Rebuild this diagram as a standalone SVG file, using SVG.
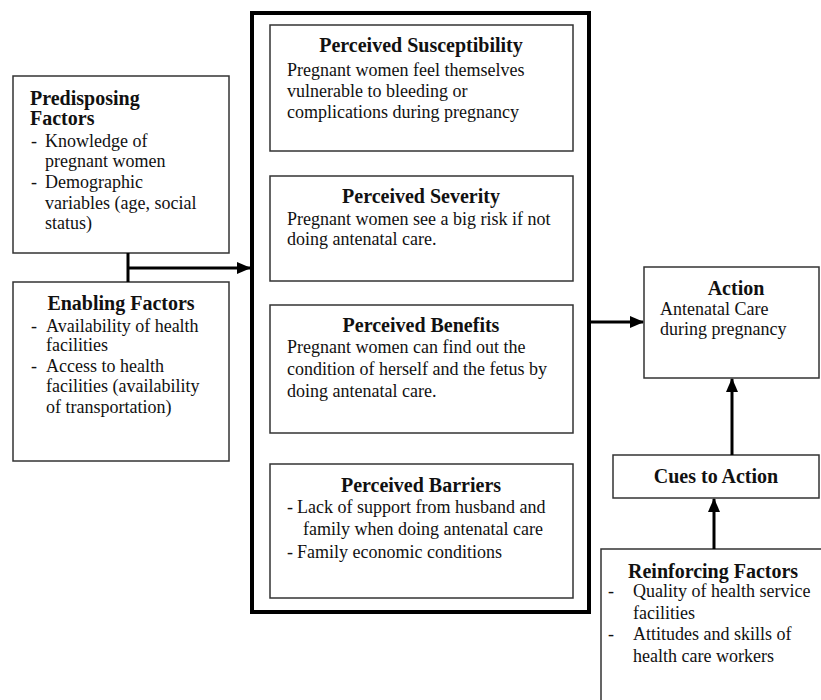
<svg xmlns="http://www.w3.org/2000/svg" width="821" height="700" viewBox="0 0 821 700">
<style>
.box{fill:#fff;stroke:#333;stroke-width:1.5}
.outer{fill:#fff;stroke:#000;stroke-width:4}
.t{font-family:"Liberation Serif","Times New Roman",serif;font-size:20px;font-weight:bold;fill:#111}
.b{font-family:"Liberation Serif","Times New Roman",serif;font-size:18px;fill:#111}
.c{text-anchor:middle}
.conn{stroke:#000;stroke-width:3;fill:none}
</style>
<defs>
<marker id="ah" markerUnits="userSpaceOnUse" markerWidth="14" markerHeight="14" refX="13" refY="7" orient="auto">
<path d="M0,1 L14,7 L0,13 z" fill="#000"/>
</marker>
</defs>
<rect width="821" height="700" fill="#fff"/>

<g id="hbm">
<rect class="outer" x="252" y="13" width="337" height="599"/>
</g>

<g id="predisposing">
<rect class="box" x="13" y="76" width="216" height="177"/>
<text class="t" x="30" y="105">Predisposing</text>
<text class="t" x="30" y="125">Factors</text>
<text class="b" x="31" y="147">-</text><text class="b" x="45" y="147">Knowledge of</text>
<text class="b" x="45" y="167">pregnant women</text>
<text class="b" x="31" y="188">-</text><text class="b" x="45" y="188">Demographic</text>
<text class="b" x="45" y="209">variables (age, social</text>
<text class="b" x="45" y="229">status)</text>
</g>

<g id="enabling">
<rect class="box" x="13" y="282" width="216" height="179"/>
<text class="t c" x="121" y="310">Enabling Factors</text>
<text class="b" x="31" y="332">-</text><text class="b" x="46" y="332">Availability of health</text>
<text class="b" x="46" y="351">facilities</text>
<text class="b" x="31" y="372">-</text><text class="b" x="46" y="372">Access to health</text>
<text class="b" x="46" y="392">facilities (availability</text>
<text class="b" x="46" y="413">of transportation)</text>
</g>

<g id="susceptibility">
<rect class="box" x="270" y="25" width="303" height="126"/>
<text class="t c" x="421" y="52">Perceived Susceptibility</text>
<text class="b" x="287" y="76">Pregnant women feel themselves</text>
<text class="b" x="287" y="97">vulnerable to bleeding or</text>
<text class="b" x="287" y="118">complications during pregnancy</text>
</g>

<g id="severity">
<rect class="box" x="270" y="176" width="303" height="105"/>
<text class="t c" x="421" y="203">Perceived Severity</text>
<text class="b" x="287" y="225">Pregnant women see a big risk if not</text>
<text class="b" x="287" y="245">doing antenatal care.</text>
</g>

<g id="benefits">
<rect class="box" x="270" y="305" width="303" height="128"/>
<text class="t c" x="421" y="332">Perceived Benefits</text>
<text class="b" x="287" y="353">Pregnant women can find out the</text>
<text class="b" x="287" y="375">condition of herself and the fetus by</text>
<text class="b" x="287" y="397">doing antenatal care.</text>
</g>

<g id="barriers">
<rect class="box" x="270" y="464" width="303" height="134"/>
<text class="t c" x="421" y="492">Perceived Barriers</text>
<text class="b" x="287" y="513">-</text><text class="b" x="297" y="513">Lack of support from husband and</text>
<text class="b" x="303" y="535">family when doing antenatal care</text>
<text class="b" x="287" y="558">-</text><text class="b" x="297" y="558">Family economic conditions</text>
</g>

<g id="action">
<rect class="box" x="644" y="267" width="175" height="111"/>
<text class="t c" x="736" y="295">Action</text>
<text class="b" x="660" y="315">Antenatal Care</text>
<text class="b" x="660" y="335">during pregnancy</text>
</g>

<g id="cues">
<rect class="box" x="613" y="455" width="206" height="43"/>
<text class="t c" x="716" y="483">Cues to Action</text>
</g>

<g id="reinforcing">
<rect class="box" x="601" y="549" width="240" height="170"/>
<text class="t" x="628" y="578">Reinforcing Factors</text>
<text class="b" x="608" y="597">-</text><text class="b" x="633" y="597">Quality of health service</text>
<text class="b" x="633" y="619">facilities</text>
<text class="b" x="608" y="640">-</text><text class="b" x="633" y="640">Attitudes and skills of</text>
<text class="b" x="633" y="662">health care workers</text>
</g>

<g id="connectors">
<path class="conn" d="M128,253 V282"/>
<path class="conn" d="M128,268 H250" marker-end="url(#ah)"/>
<path class="conn" d="M590,322 H643" marker-end="url(#ah)"/>
<path class="conn" d="M732,455 V379" marker-end="url(#ah)"/>
<path class="conn" d="M714,549 V499" marker-end="url(#ah)"/>
</g>
</svg>
